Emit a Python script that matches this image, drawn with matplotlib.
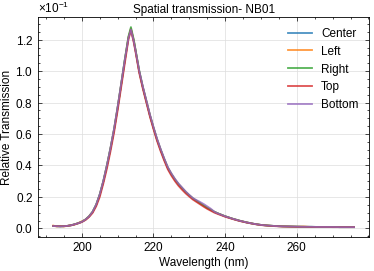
import numpy as np
import matplotlib.pyplot as plt

plt.rcParams['font.family'] = ['Liberation Sans', 'DejaVu Sans']
plt.rcParams['mathtext.fontset'] = 'custom'
plt.rcParams['mathtext.rm'] = 'Liberation Sans'
plt.rcParams['font.size'] = 8.5

# wavelength grid (nm)
wl = [192, 193, 194, 195, 196, 197, 198, 199, 200, 201, 202, 203, 204, 205, 206, 207,
      208, 209, 210, 211, 212, 213, 213.7, 214.5, 215, 216, 217, 218, 219, 220, 221, 222,
      223, 224, 225, 226, 227, 228, 229, 230, 231, 232, 233, 234, 235, 236, 237, 238,
      240, 242, 244, 246, 248, 250, 252, 254, 256, 258, 260, 262, 264, 266, 268, 270,
      272, 274, 276]

# relative transmission, in units of 1e-1
center = [0.015, 0.014, 0.013, 0.014, 0.016, 0.020, 0.026, 0.033, 0.042, 0.056, 0.076, 0.105, 0.15, 0.215, 0.30, 0.40,
          0.51, 0.63, 0.77, 0.92, 1.07, 1.21, 1.265, 1.19, 1.13, 1.00, 0.90, 0.81, 0.72, 0.64, 0.565, 0.50,
          0.44, 0.385, 0.345, 0.31, 0.28, 0.255, 0.23, 0.21, 0.19, 0.175, 0.16, 0.145, 0.13, 0.118, 0.105, 0.095,
          0.077, 0.062, 0.049, 0.038, 0.029, 0.022, 0.018, 0.015, 0.013, 0.012, 0.011, 0.010, 0.010, 0.009, 0.009, 0.009,
          0.008, 0.008, 0.008]
left = [0.018, 0.012, 0.016, 0.012, 0.016, 0.021, 0.025, 0.034, 0.045, 0.056, 0.077, 0.105, 0.15, 0.215, 0.30, 0.40,
        0.51, 0.63, 0.77, 0.92, 1.07, 1.215, 1.27, 1.195, 1.13, 1.00, 0.90, 0.81, 0.72, 0.64, 0.565, 0.50,
        0.44, 0.385, 0.345, 0.31, 0.28, 0.255, 0.23, 0.21, 0.19, 0.175, 0.16, 0.145, 0.13, 0.118, 0.105, 0.095,
        0.077, 0.062, 0.049, 0.038, 0.029, 0.022, 0.018, 0.015, 0.013, 0.012, 0.011, 0.012, 0.009, 0.009, 0.009, 0.009,
        0.008, 0.008, 0.008]
right = [0.015, 0.014, 0.013, 0.014, 0.016, 0.020, 0.026, 0.033, 0.042, 0.056, 0.076, 0.105, 0.15, 0.215, 0.30, 0.40,
         0.51, 0.63, 0.77, 0.92, 1.075, 1.22, 1.28, 1.20, 1.135, 1.005, 0.90, 0.81, 0.72, 0.64, 0.565, 0.50,
         0.44, 0.385, 0.345, 0.31, 0.28, 0.255, 0.23, 0.21, 0.19, 0.175, 0.16, 0.145, 0.13, 0.118, 0.105, 0.095,
         0.077, 0.062, 0.049, 0.038, 0.029, 0.022, 0.018, 0.015, 0.013, 0.012, 0.011, 0.010, 0.010, 0.009, 0.009, 0.009,
         0.008, 0.008, 0.008]
top = [0.015, 0.014, 0.013, 0.014, 0.016, 0.019, 0.025, 0.032, 0.040, 0.053, 0.072, 0.098, 0.14, 0.20, 0.285, 0.38,
       0.49, 0.61, 0.75, 0.90, 1.05, 1.20, 1.26, 1.18, 1.12, 0.99, 0.89, 0.80, 0.71, 0.63, 0.555, 0.49,
       0.43, 0.375, 0.335, 0.30, 0.27, 0.245, 0.222, 0.202, 0.183, 0.168, 0.153, 0.138, 0.124, 0.112, 0.10, 0.091,
       0.074, 0.060, 0.047, 0.037, 0.028, 0.021, 0.017, 0.014, 0.012, 0.011, 0.010, 0.010, 0.009, 0.009, 0.009, 0.008,
       0.008, 0.008, 0.008]
bottom = [0.015, 0.014, 0.013, 0.014, 0.016, 0.020, 0.026, 0.033, 0.042, 0.056, 0.076, 0.106, 0.152, 0.218, 0.303, 0.403,
          0.513, 0.635, 0.775, 0.925, 1.075, 1.21, 1.265, 1.19, 1.13, 1.005, 0.905, 0.815, 0.725, 0.645, 0.57, 0.505,
          0.445, 0.39, 0.35, 0.315, 0.285, 0.26, 0.235, 0.213, 0.193, 0.18, 0.168, 0.155, 0.14, 0.125, 0.106, 0.095,
          0.077, 0.062, 0.049, 0.038, 0.029, 0.022, 0.018, 0.015, 0.013, 0.012, 0.011, 0.010, 0.010, 0.009, 0.009, 0.009,
          0.008, 0.008, 0.008]

labels = ['Center', 'Left', 'Right', 'Top', 'Bottom']
series = [center, left, right, top, bottom]
scale = 1e-1

fig, ax = plt.subplots(figsize=(3.74, 2.71), dpi=100)
for lab, s in zip(labels, series):
    ax.plot(wl, np.array(s) * scale, label=lab, linewidth=1.3, alpha=0.8)

ax.set_title('Spatial transmission- NB01', fontsize=8.5, pad=3)
ax.set_xlabel('Wavelength (nm)', labelpad=2)
ax.set_ylabel('Relative Transmission')
ax.yaxis.set_label_coords(-0.075, 0.5)
ax.set_xticks([200, 220, 240, 260])
ax.ticklabel_format(axis='y', style='sci', scilimits=(0, 0), useMathText=True)
ax.minorticks_on()
ax.tick_params(which='both', direction='in', top=True, right=True, labelsize=8.5)
ax.tick_params(which='major', length=3, width=0.5)
ax.tick_params(which='minor', length=1.5, width=0.5)
for sp in ax.spines.values():
    sp.set_linewidth(0.6)
ax.grid(True, which='major', color='#dddddd', linewidth=0.5)
ax.legend(frameon=False, loc='upper right', fontsize=8.5, handlelength=2.0)

fig.subplots_adjust(left=0.102, right=0.987, bottom=0.125, top=0.937)
fig.savefig('out.png', dpi=100)
